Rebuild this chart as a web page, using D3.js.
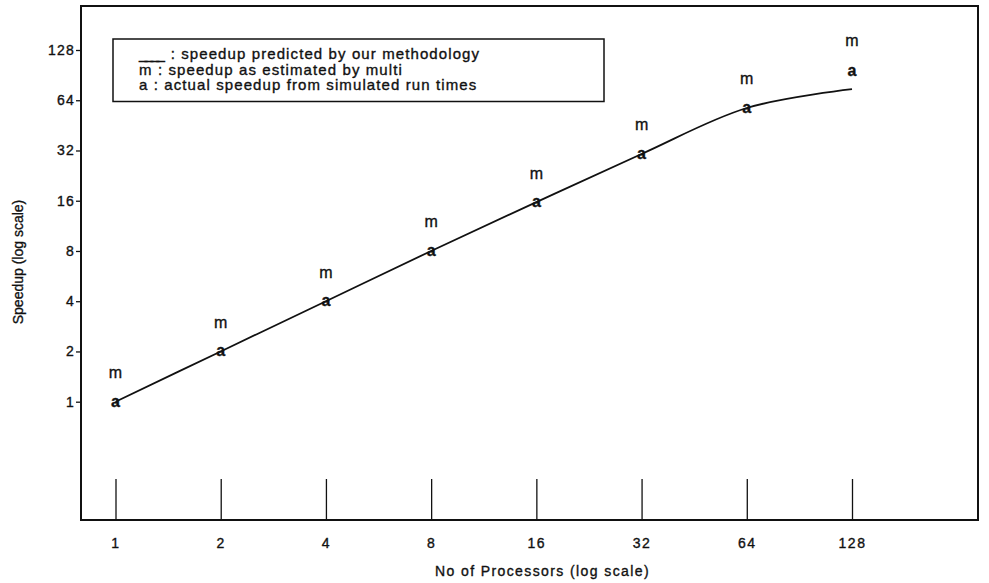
<!DOCTYPE html>
<html>
<head>
<meta charset="utf-8">
<script src="https://cdn.jsdelivr.net/npm/d3@7"></script>
<style>
  html, body { margin: 0; padding: 0; background: #fff; }
  svg { display: block; font-family: "Liberation Sans", Arial, Helvetica, sans-serif; }
  .ink { fill: #111; stroke: #111; stroke-width: 0.35px; }
</style>
</head>
<body>
<svg id="chart" width="989" height="583"></svg>
<script>
// Processor counts (x) and tick labels
const processors = [1, 2, 4, 8, 16, 32, 64, 128];
const xTickLabels = ["1", "2", "4", "8", "16", "32", "64", "128"];
const yTickValues = [1, 2, 4, 8, 16, 32, 64, 128];
const yTickLabels = ["1", "2", "4", "8", "16", "32", "64", "128"];

// Speedup series
const predicted = [1, 2, 4, 8, 15.7, 30.5, 57.5, 74.5];   // solid curve
const multiEst  = [1.49, 2.96, 5.9, 11.9, 23.2, 45.6, 86, 144]; // "m"
const actual    = [1, 2, 4, 8, 15.7, 30.5, 57.5, 96];     // "a"

// Legend entries: [key, description]
const legendKeys = ["____", "m", "a"];
const legendTexts = [
  " : speedup predicted by our methodology",
  " : speedup as estimated by multi",
  " : actual speedup from simulated run times"
];

const svg = d3.select("#chart");

const frame = { left: 81, right: 978, top: 6, bottom: 520 };

const x = d3.scaleLog().base(2).domain([1, 128]).range([115.5, 852]);
const y = d3.scaleLog().base(2).domain([1, 128]).range([401.7, 50]);

// Plot frame
svg.append("rect")
  .attr("x", frame.left).attr("y", frame.top)
  .attr("width", frame.right - frame.left)
  .attr("height", frame.bottom - frame.top)
  .attr("fill", "none").attr("stroke", "#111").attr("stroke-width", 2);

// Y axis: short outer ticks on the left edge
const yAxis = svg.append("g")
  .attr("transform", `translate(${frame.left},0)`)
  .call(d3.axisLeft(y)
    .tickValues(yTickValues)
    .tickFormat((d, i) => yTickLabels[i])
    .tickSize(5).tickPadding(1));
yAxis.select(".domain").remove();
yAxis.selectAll(".tick line").attr("stroke", "#111").attr("stroke-width", 1.3);
yAxis.selectAll(".tick text")
  .attr("class", "ink")
  .style("font-size", "14px").style("letter-spacing", "1.2px")
  .attr("fill", "#111");

// X axis: long ticks rising from the bottom edge
const xAxis = svg.append("g")
  .attr("transform", `translate(0,${frame.bottom})`)
  .call(d3.axisBottom(x)
    .tickValues(processors)
    .tickFormat((d, i) => xTickLabels[i])
    .tickSize(-41).tickPadding(18));
xAxis.select(".domain").remove();
xAxis.selectAll(".tick line").attr("stroke", "#111").attr("stroke-width", 1.3);
xAxis.selectAll(".tick text")
  .attr("class", "ink")
  .style("font-size", "14px").style("letter-spacing", "1.5px")
  .attr("fill", "#111");

// Axis titles
svg.append("text")
  .attr("class", "ink")
  .attr("x", 542.5).attr("y", 576)
  .attr("text-anchor", "middle")
  .style("font-size", "14px").style("letter-spacing", "1.4px")
  .text("No of Processors (log scale)");

svg.append("text")
  .attr("class", "ink")
  .attr("transform", "translate(23,262) rotate(-90)")
  .attr("text-anchor", "middle")
  .style("font-size", "14px")
  .text("Speedup (log scale)");

// Predicted speedup curve
const line = d3.line()
  .x((d, i) => x(processors[i]))
  .y(d => y(d))
  .curve(d3.curveCatmullRom.alpha(0.5));

svg.append("path")
  .datum(predicted)
  .attr("d", line)
  .attr("fill", "none")
  .attr("stroke", "#111")
  .attr("stroke-width", 1.8);

// "m" markers
svg.append("g").selectAll("text")
  .data(multiEst)
  .join("text")
  .attr("class", "ink")
  .attr("x", (d, i) => x(processors[i]))
  .attr("y", d => y(d))
  .attr("dy", "0.3em")
  .attr("text-anchor", "middle")
  .style("font-size", "16px")
  .text("m");

// "a" markers
svg.append("g").selectAll("text")
  .data(actual)
  .join("text")
  .attr("class", "ink")
  .attr("x", (d, i) => x(processors[i]))
  .attr("y", d => y(d))
  .attr("dy", "0.3em")
  .attr("text-anchor", "middle")
  .style("font-size", "16px")
  .style("font-weight", "bold")
  .text("a");

// Legend box
svg.append("rect")
  .attr("x", 113).attr("y", 39)
  .attr("width", 491).attr("height", 62.5)
  .attr("fill", "none").attr("stroke", "#111").attr("stroke-width", 1.5);

const legendRows = svg.append("g").selectAll("text")
  .data(legendTexts)
  .join("text")
  .attr("class", "ink")
  .attr("x", 139)
  .attr("y", (d, i) => 59 + i * 15.5)
  .style("font-size", "15px")
  .style("letter-spacing", "1.1px");

legendRows.append("tspan")
  .style("letter-spacing", (d, i) => i === 0 ? "-2.5px" : null)
  .text((d, i) => legendKeys[i]);
legendRows.append("tspan")
  .attr("dx", (d, i) => i === 0 ? 3 : 0)
  .text(d => d);
</script>
</body>
</html>
